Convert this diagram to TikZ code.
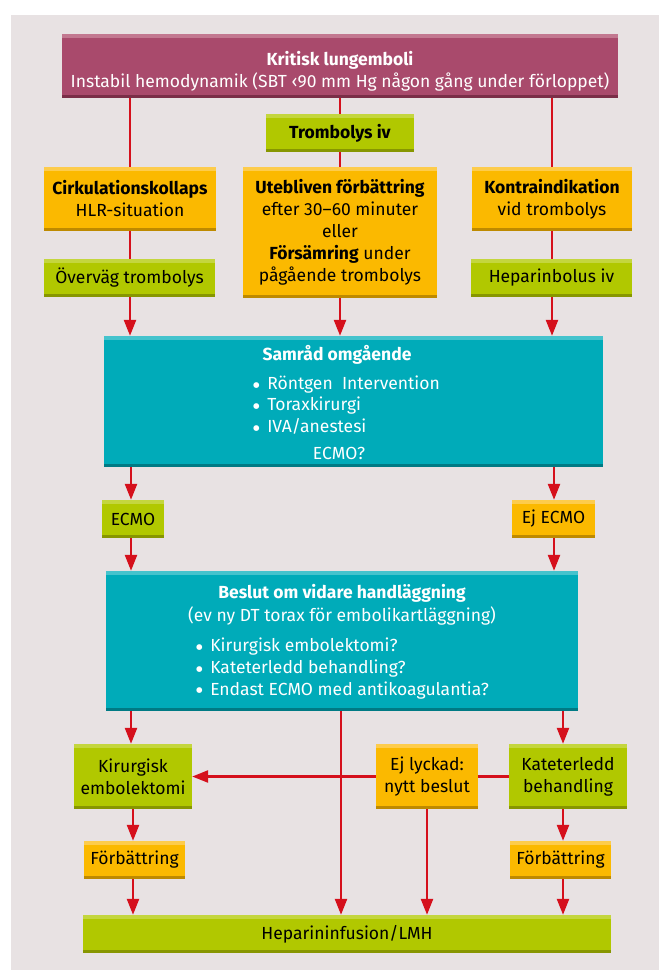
\documentclass[tikz,border=0pt]{standalone}
\usepackage{fontspec}
\setmainfont{Fira Sans}
\newfontfamily\dvsym{DejaVu Sans}
\usetikzlibrary{arrows.meta,calc}
\definecolor{bgpanel}{HTML}{E8E2E3}
\definecolor{purp}{HTML}{A94A6C}
\definecolor{purpT}{HTML}{C27890}
\definecolor{purpB}{HTML}{7A2E48}
\definecolor{grn}{HTML}{B1C800}
\definecolor{grnT}{HTML}{C4D63E}
\definecolor{grnB}{HTML}{879600}
\definecolor{orn}{HTML}{FBB900}
\definecolor{ornT}{HTML}{FDCC4C}
\definecolor{ornB}{HTML}{BE8A00}
\definecolor{teal}{HTML}{00ABB9}
\definecolor{tealT}{HTML}{45C3CD}
\definecolor{tealB}{HTML}{007A84}
\definecolor{arr}{HTML}{D5101C}
\newcommand{\bul}{\raisebox{2.2pt}{\dvsym\fontsize{7.5}{7.5}\selectfont ●}\ \,}
\tikzset{
  strips/.style n args={2}{path picture={
    \fill[#1] (path picture bounding box.north west) rectangle ([yshift=-4pt]path picture bounding box.north east);
    \fill[#2] (path picture bounding box.south west) rectangle ([yshift=3.5pt]path picture bounding box.south east);}},
  boxbase/.style={inner sep=0pt, align=center, font=\fontsize{17.5}{22}\selectfont},
  pbox/.style={boxbase, fill=purp, strips={purpT}{purpB}, text=white},
  gbox/.style={boxbase, fill=grn, strips={grnT}{grnB}, text=black},
  obox/.style={boxbase, fill=orn, strips={ornT}{ornB}, text=black},
  tbox/.style={boxbase, fill=teal, strips={tealT}{tealB}, text=white},
  btext/.style={text=white, inner sep=0pt, font=\fontsize{17.5}{22}\selectfont},
  bhead/.style={btext, font=\bfseries\fontsize{17.5}{22}\selectfont},
  blist/.style={btext, align=left, anchor=west, font=\fontsize{17.5}{21.7}\selectfont},
  conn/.style={draw=arr, line width=2.4pt},
  arrw/.style={conn, -{Triangle[length=16pt,width=12pt]}},
}
\begin{document}
\begin{tikzpicture}[x=1pt,y=-1pt]
\useasboundingbox (0,0) rectangle (659,970);
\fill[white] (0,0) rectangle (659,970);
\fill[bgpanel] (11,15) rectangle (659,970);

% boxes (centre, width, height)
\node[pbox, minimum width=556, minimum height=64] (top) at (340,66) {};
\node[btext, align=center] (topt) at (340,71)
  {\textbf{Kritisk lungemboli}\\Instabil hemodynamik (SBT ‹90 mm Hg någon gång under förloppet)};
\node[gbox, minimum width=148, minimum height=38] (tromb) at (340,133) {\textbf{Trombolys iv}};
\node[obox, minimum width=172, minimum height=64] (cirk) at (130,199) {\textbf{Cirkulationskollaps}\\HLR-situation};
\node[obox, minimum width=194, minimum height=131] (uteb) at (340,232.5)
  {\textbf{Utebliven förbättring}\\efter 30–60 minuter\\eller\\\textbf{Försämring} under\\pågående trombolys};
\node[obox, minimum width=160, minimum height=64] (kontra) at (552,199) {\textbf{Kontraindikation}\\vid trombolys};
\node[gbox, minimum width=171, minimum height=38] (overv) at (129.5,278) {Överväg trombolys};
\node[gbox, minimum width=161, minimum height=38] (hepb) at (551.5,278) {Heparinbolus iv};

\node[tbox, minimum width=499, minimum height=131] (samr) at (353.5,401.5) {};
\node[bhead] (samrt) at (337,355) {Samråd omgående};
\node[blist] (slist) at (253,405)
  {\bul Röntgen\ \ Intervention\\\bul Toraxkirurgi\\\bul IVA/anestesi};
\node[btext] (s4) at (339,453) {ECMO?};

\node[gbox, minimum width=62, minimum height=38] (ecmo) at (133,519) {ECMO};
\node[obox, minimum width=83, minimum height=38] (ejecmo) at (553.5,519) {Ej ECMO};

\node[tbox, minimum width=472, minimum height=140] (besl) at (342,641) {};
\node[bhead] (beslt) at (342,593) {Beslut om vidare handläggning};
\node[btext] (besl2) at (342,616) {(ev ny DT torax för embolikartläggning)};
\node[blist] (blist1) at (196,668.5)
  {\bul Kirurgisk embolektomi?\\\bul Kateterledd behandling?\\\bul Endast ECMO med antikoagulantia?};

\node[gbox, minimum width=118, minimum height=65] (kir) at (133,776.5) {Kirurgisk\\embolektomi};
\node[obox, minimum width=102, minimum height=65] (ejl) at (427,776.5) {Ej lyckad:\\nytt beslut};
\node[gbox, minimum width=118, minimum height=65] (kat) at (568,776.5) {Kateterledd\\behandling};
\node[obox, minimum width=101, minimum height=38] (forb1) at (134.5,860) {Förbättring};
\node[obox, minimum width=101, minimum height=38] (forb2) at (560.5,860) {Förbättring};
\node[gbox, minimum width=528, minimum height=38] (hepi) at (347,934) {Heparininfusion/LMH};

% connectors
\draw[conn] (top.south -| cirk.north) -- (cirk.north);
\draw[conn] (top.south -| tromb.north) -- (tromb.north);
\draw[conn] (top.south -| kontra.north) -- (kontra.north);
\draw[conn] (tromb.south) -- (uteb.north);
\draw[conn] (cirk.south) -- (overv.north -| cirk.south);
\draw[conn] (kontra.south) -- (hepb.north -| kontra.south);
\draw[arrw] (overv.south -| cirk.south) -- (samr.north -| cirk.south);
\draw[arrw] (uteb.south) -- (samr.north -| uteb.south);
\draw[arrw] (hepb.south -| kontra.south) -- (samr.north -| kontra.south);

\coordinate (cL) at (131,0);
\coordinate (cR) at (554,0);
\draw[arrw] (samr.south -| cL) -- (ecmo.north -| cL);
\draw[arrw] (samr.south -| cR) -- (ejecmo.north -| cR);
\draw[arrw] (ecmo.south -| cL) -- (besl.north -| cL);
\draw[arrw] (ejecmo.south -| cR) -- (besl.north -| cR);

\coordinate (cM) at (341,0);
\coordinate (cK) at (563,0);
\draw[arrw] (besl.south -| cL) -- (kir.north -| cL);
\draw[arrw] (besl.south -| cM) -- (hepi.north -| cM);
\draw[arrw] (besl.south -| cK) -- (kat.north -| cK);
\draw[conn] (kat.west) -- (ejl.east);
\draw[arrw] (ejl.west) -- (kir.east);
\draw[arrw] (ejl.south) -- (hepi.north -| ejl.south);
\coordinate (cF) at (133,0);
\draw[arrw] (kir.south -| cF) -- (forb1.north -| cF);
\draw[arrw] (forb1.south -| cF) -- (hepi.north -| cF);
\draw[arrw] (kat.south -| cK) -- (forb2.north -| cK);
\draw[arrw] (forb2.south -| cK) -- (hepi.north -| cK);
\end{tikzpicture}
\end{document}
